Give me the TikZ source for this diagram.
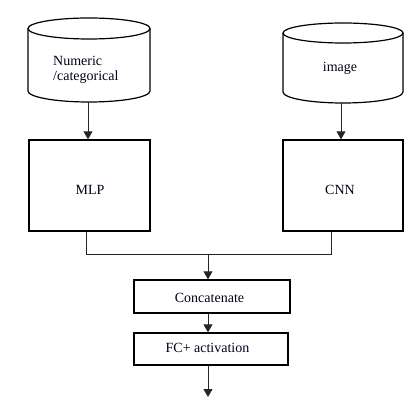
\documentclass[tikz,border=0pt]{standalone}
\usepackage{fontspec}
\setmainfont{Liberation Serif}
\usetikzlibrary{arrows.meta,calc}
\begin{document}
\begin{tikzpicture}[x=1pt,y=1pt,yscale=-1,
  box/.style={draw=black,line width=1.3pt,inner sep=0pt},
  cyl/.style={draw=black,line width=1.2pt},
  lbl/.style={font=\fontsize{14}{15}\selectfont,inner sep=0pt,text=black!90!blue},
  conn/.style={draw=black!85,line width=0.9pt},
  arr/.style={conn,-{Triangle[width=9pt,length=8pt]}}]
\useasboundingbox (0,0) rectangle (414,403);
% cylinders
\draw[cyl] (89,28.5) ellipse[x radius=61,y radius=10.5];
\draw[cyl] (28,28.5) -- (28,91) arc[start angle=180,end angle=0,x radius=61,y radius=11] -- (150,28.5);
\coordinate (lcylb) at (88,102);
\draw[cyl] (343,33) ellipse[x radius=60,y radius=10];
\draw[cyl] (283,33) -- (283,92) arc[start angle=180,end angle=0,x radius=60,y radius=11] -- (403,33);
\coordinate (rcylb) at (341,103);
\node[lbl,align=left,anchor=west] (num) at (53,70) {Numeric\\/categorical};
\node[lbl] (img) at (340,68) {image};
% boxes
\node[box,minimum width=121pt,minimum height=91pt] (mlp) at (89.5,185.5) {};
\node[box,minimum width=120pt,minimum height=91pt] (cnn) at (343,185.5) {};
\node[lbl] (mlpt) at (90,190) {MLP};
\node[lbl] (cnnt) at (340,190) {CNN};
\node[box,minimum width=156pt,minimum height=33pt] (cat) at (212,296.5) {};
\node[lbl] (catt) at (209.5,298) {Concatenate};
\node[box,minimum width=154pt,minimum height=32pt] (fc) at (211,349) {};
\node[lbl] (fct) at (207.5,348) {FC+ activation};
% connectors
\draw[arr] (lcylb) -- (lcylb |- mlp.north);
\draw[arr] (rcylb) -- (rcylb |- cnn.north);
\coordinate (ml) at (86,254);
\coordinate (cr) at (331,254);
\coordinate (mid) at (208,254);
\draw[conn] (ml |- mlp.south) -- (ml) -- (cr) -- (cr |- cnn.south);
\draw[arr] (mid) -- (mid |- cat.north);
\draw[arr] (mid |- cat.south) -- (mid |- fc.north);
\coordinate (out) at (208,397);
\draw[arr] (mid |- fc.south) -- (out);
\end{tikzpicture}
\end{document}
